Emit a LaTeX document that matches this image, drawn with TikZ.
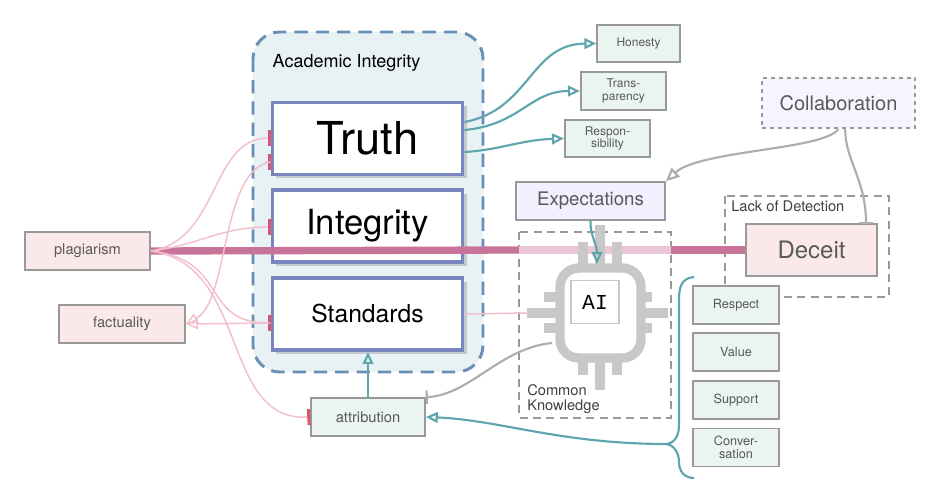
\documentclass[tikz,border=0pt]{standalone}
\usepackage{fontspec}
\setmainfont{TeX Gyre Heros}
\newfontfamily\monof{Liberation Mono}
\usetikzlibrary{arrows.meta,shadows}
\definecolor{pinkf}{HTML}{FBE9EA}
\definecolor{greenf}{HTML}{EAF4F1}
\definecolor{teal}{HTML}{5FA5AE}
\definecolor{pinkl}{HTML}{F2BFCB}
\definecolor{pinkd}{HTML}{C8749A}
\definecolor{pinkbar}{HTML}{D9566E}
\definecolor{gr}{HTML}{999999}
\definecolor{chip}{HTML}{C8C8C8}
\definecolor{contf}{HTML}{E8F2F5}
\definecolor{contd}{HTML}{6A8FB5}
\definecolor{mainb}{HTML}{7A86C0}
\tikzset{
 sbox/.style={draw=gr,line width=1.2pt,text=black!65,inner sep=0pt,align=center},
 mainbox/.style={draw=mainb,line width=2.4pt,fill=white,inner sep=0pt,drop shadow={shadow xshift=3pt,shadow yshift=-3pt,opacity=.35}},
 tealarr/.style={draw=teal,line width=1.6pt,-{Triangle[open,length=9pt,width=8pt]}},
 pinkln/.style={draw=pinkl,line width=1.1pt},
 pinkbartip/.style={-{Bar[width=12pt,line width=2.2pt,color=pinkbar]}},
 pinkarr/.style={-{Triangle[open,length=9pt,width=8pt]}},
 grayln/.style={draw=gr!80,line width=1.6pt},
 dbox/.style={draw=gr,dashed,dash pattern=on 6pt off 4pt,line width=1.1pt},
}
\begin{document}
\begin{tikzpicture}[x=0.75pt,y=-0.75pt]
\useasboundingbox (0,0) rectangle (934,498);
% container
\draw[fill=contf,draw=contd,line width=2.2pt,dash pattern=on 10pt off 6pt,rounded corners=20pt] (253,32) rectangle (483,372);
\node[anchor=west,font=\fontsize{13.5}{15}\selectfont] (acad) at (268,63) {Academic Integrity};
\node[mainbox,minimum width=143pt,minimum height=54pt,font=\fontsize{34}{36}\selectfont] (truth) at (367.5,138.5) {Truth};
\node[mainbox,minimum width=143pt,minimum height=54pt,font=\fontsize{26}{28}\selectfont] (integ) at (367.5,226) {Integrity};
\node[mainbox,minimum width=143pt,minimum height=54pt,font=\fontsize{18.5}{20}\selectfont] (stand) at (367.5,314) {Standards};
% left boxes
\node[sbox,fill=pinkf,minimum width=94pt,minimum height=28.5pt,font=\fontsize{11}{12}\selectfont] (plag) at (87.5,251) {plagiarism};
\node[sbox,fill=pinkf,minimum width=94.5pt,minimum height=28.5pt,font=\fontsize{11}{12}\selectfont] (fact) at (122,324) {factuality};
\node[sbox,fill=greenf,minimum width=85.5pt,minimum height=28.5pt,font=\fontsize{11}{12}\selectfont] (attr) at (368,417) {attribution};
% right-top small boxes
\node[sbox,fill=greenf,minimum width=62pt,minimum height=28pt,font=\fontsize{9}{10}\selectfont] (hon) at (638.5,43.5) {Honesty};
\node[sbox,fill=greenf,minimum width=64pt,minimum height=28.5pt,font=\fontsize{9}{9.5}\selectfont] (trans) at (623.5,91) {Trans-\\parency};
\node[sbox,fill=greenf,minimum width=64pt,minimum height=28pt,font=\fontsize{9}{9.5}\selectfont] (resp) at (607.5,138.5) {Respon-\\sibility};
\node[sbox,dashed,fill=blue!4,minimum width=115pt,minimum height=37.5pt,font=\fontsize{15}{16}\selectfont] (collab) at (838.5,103) {Collaboration};
\node[sbox,fill=blue!6,minimum width=112pt,minimum height=28.5pt,font=\fontsize{14}{15}\selectfont] (expect) at (590.5,201) {Expectations};
% dashed frames
\draw[dbox] (519,232) rectangle (671,418);
\node[anchor=south west,align=left,inner sep=0pt,text=black!75,font=\fontsize{11}{11.5}\selectfont] (ck) at (527,414) {Common\\Knowledge};
\draw[dbox] (725,196) rectangle (889,297);
\node[anchor=west,inner sep=0pt,text=black!75,font=\fontsize{11}{12}\selectfont] (lod) at (731,206) {Lack of Detection};
% thick line
\draw[pinkd,line width=5.5pt] (plag.east) -- (519,250);
\draw[pinkd!40,line width=5.5pt] (519,250) -- (671,250);
\node[sbox,fill=pinkf,minimum width=98pt,minimum height=39pt,font=\fontsize{18}{19}\selectfont] (deceit) at (811.5,250) {Deceit};
\draw[pinkd,line width=5.5pt] (671,250) -- (deceit.west);
% chip
\begin{scope}[chip,line width=7pt]
\foreach \x/\a in {583/242,600/225,617/242} {\draw (\x,\a) -- (\x,268); \draw (\x,358) -- (\x,\ifnum\a=225 390\else 375\fi);}
\foreach \y/\a in {297/544,313/527,328/544} {\draw (\a,\y) -- (560,\y); \draw (641,\y) -- (\ifnum\a=527 668\else 652\fi,\y);}
\end{scope}
\draw[chip,line width=7pt,fill=white,rounded corners=14pt] (560,268) rectangle (641,358);
\node[draw=chip,line width=1pt,fill=white,minimum width=36pt,minimum height=32pt,font=\monof\fontsize{16}{17}\selectfont] (ai) at (595,302) {AI};
\coordinate (chiptop) at (597,264);
\coordinate (chipleft) at (552,343);
\coordinate (chipin) at (528,313);
% right stack
\node[sbox,fill=greenf,minimum width=64.5pt,minimum height=28.5pt,font=\fontsize{9.5}{10}\selectfont] (respect) at (736,305) {Respect};
\node[sbox,fill=greenf,minimum width=64.5pt,minimum height=28.5pt,font=\fontsize{9.5}{10}\selectfont] (value) at (736,352) {Value};
\node[sbox,fill=greenf,minimum width=64.5pt,minimum height=28.5pt,font=\fontsize{9.5}{10}\selectfont] (supp) at (736,400) {Support};
\node[sbox,fill=greenf,minimum width=64.5pt,minimum height=28.5pt,font=\fontsize{9.5}{9.5}\selectfont] (conv) at (736,447.5) {Conver-\\sation};
% brace
\coordinate (btip) at (667,444);
\draw[teal,line width=1.6pt] (694,277) .. controls (680,278) and (679,290) .. (679,300) -- (679,425) .. controls (679,438) and (673,443) .. (btip) .. controls (673,445) and (679,452) .. (679,462) .. controls (679,472) and (685,478) .. (694,478);
\draw[tealarr] (btip) .. controls (560,444) and (500,420) .. (attr.east);
% teal arrows
\draw[tealarr] (truth.east|-0,122) .. controls (530,110) and (530,44) .. (hon.west);
\draw[tealarr] (truth.east|-0,130) .. controls (520,125) and (530,91) .. (trans.west);
\draw[tealarr] (truth.east|-0,152) .. controls (500,150) and (520,140) .. (resp.west);
\draw[tealarr] (expect.south) .. controls (590,235) and (597,245) .. (chiptop);
\draw[tealarr] (attr.north) -- (368,352);
% gray
\draw[grayln,-{Triangle[open,length=10pt,width=9pt]}] (collab.south) .. controls (825,150) and (700,150) .. (expect.north east);
\draw[grayln,-{Bar[width=10pt]}] ([xshift=5pt]collab.south) .. controls (845,160) and (866,180) .. (866,224);
\draw[grayln,-{Bar[width=10pt]}] (chipleft) .. controls (500,348) and (470,395) .. (attr.north east);
% pink thin
\draw[pinkln] (stand.east) -- (chipin);
\draw[pinkln,pinkbartip] (plag.east) .. controls (220,240) and (210,138) .. (truth.west|-0,138);
\draw[pinkln,pinkbartip] (plag.east) .. controls (200,245) and (220,227) .. (truth.west|-0,227);
\draw[pinkln,pinkbartip] (plag.east) .. controls (230,260) and (200,323) .. (truth.west|-0,323);
\draw[pinkln,pinkbartip] (plag.east) .. controls (250,265) and (220,422) .. (attr.west);
\draw[pinkln,pinkbartip] ([xshift=-4pt]truth.west|-0,162) -- (truth.west|-0,162);
\draw[pinkln,pinkarr] (truth.west|-0,162) .. controls (220,170) and (230,300) .. (fact.east);
\draw[pinkln,pinkarr] (truth.west|-0,323) -- (fact.east);
\end{tikzpicture}
\end{document}
